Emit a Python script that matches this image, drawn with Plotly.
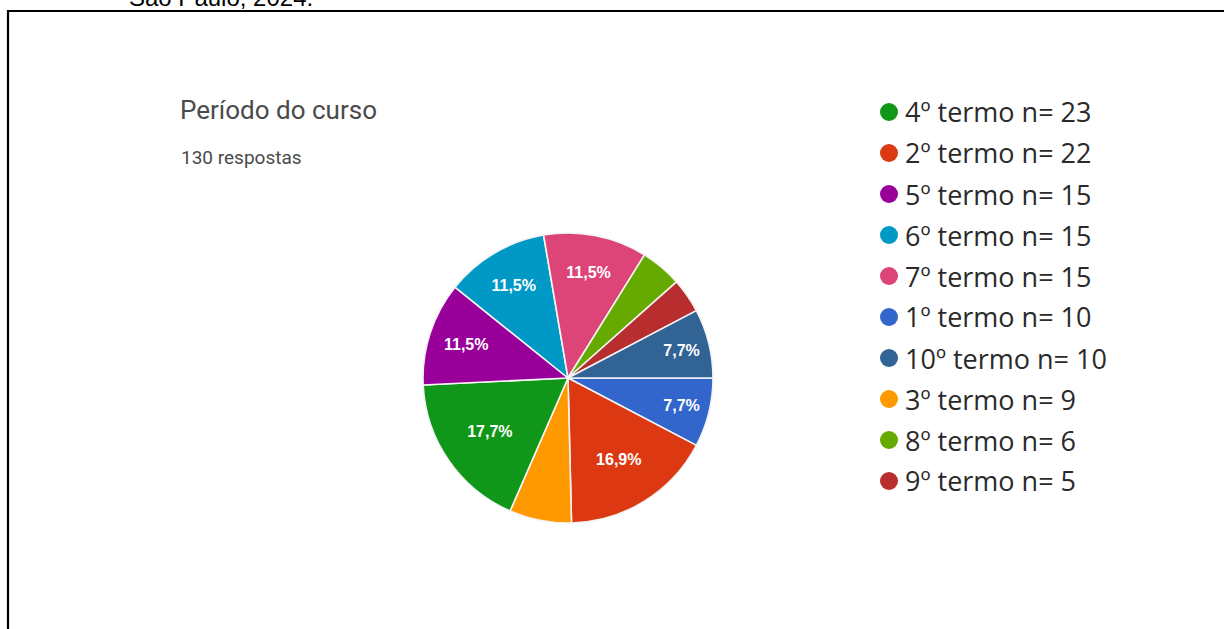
import plotly.graph_objects as go

W, H = 1224, 629

# Period of the course: number of answers per term (130 in total)
terms = ["1º termo", "2º termo", "3º termo", "4º termo", "5º termo",
         "6º termo", "7º termo", "8º termo", "9º termo", "10º termo"]
counts = [10, 22, 9, 23, 15, 15, 15, 6, 5, 10]
colors = ["#3366CC", "#DC3912", "#FF9900", "#109618", "#990099",
          "#0099C6", "#DD4477", "#66AA00", "#B82E2E", "#316395"]
# legend rows, listed from most to fewest answers
legend_order = ["4º termo", "2º termo", "5º termo", "6º termo", "7º termo",
                "1º termo", "10º termo", "3º termo", "8º termo", "9º termo"]

title_text = "Período do curso"
subtitle_text = "130 respostas"
caption_text = "São Paulo, 2024."

total = sum(counts)
pct_text = []
for c in counts:
    p = c / total * 100
    pct_text.append(f"<b>{p:.1f}%</b>".replace(".", ",") if p >= 7 else "")


def px(x):
    return x / W


def py(y):
    return 1 - y / H


# pie geometry in pixels
cx, cy, r = 568, 378, 145

fig = go.Figure(go.Pie(
    labels=terms,
    values=counts,
    sort=False,
    direction="clockwise",
    rotation=90,
    text=pct_text,
    textinfo="text",
    textposition="inside",
    insidetextorientation="horizontal",
    textfont=dict(family="Liberation Sans, Arial", size=16, color="white"),
    marker=dict(colors=colors, line=dict(color="#f4f4f4", width=1.6)),
    domain=dict(x=[px(cx - r), px(cx + r)], y=[py(cy + r), py(cy - r)]),
    showlegend=False,
    hoverinfo="label+value+percent",
))

shapes = []
annotations = []

# frame around the figure
shapes.append(dict(type="path", xref="paper", yref="paper",
                   path=f"M {px(8)} {py(H + 5)} L {px(8)} {py(11)} L {px(W + 5)} {py(11)}",
                   line=dict(color="black", width=2.2)))

# caption running off the top edge
annotations.append(dict(text=caption_text, xref="paper", yref="paper",
                        x=px(127), y=py(13), xanchor="left", yanchor="bottom",
                        showarrow=False,
                        font=dict(family="Liberation Sans, Arial", size=24, color="black")))

annotations.append(dict(text=title_text, xref="paper", yref="paper",
                        x=px(178), y=py(110), xanchor="left", yanchor="middle",
                        showarrow=False,
                        font=dict(family="Roboto", size=26, color="#4a4a4a")))
annotations.append(dict(text=subtitle_text, xref="paper", yref="paper",
                        x=px(179), y=py(158), xanchor="left", yanchor="middle",
                        showarrow=False,
                        font=dict(family="Roboto", size=19, color="#4a4a4a")))

# custom legend
row0, step = 112, 41
mx, mr = 889, 9
for k, name in enumerate(legend_order):
    i = terms.index(name)
    y = row0 + k * step
    shapes.append(dict(type="circle", xref="paper", yref="paper",
                       x0=px(mx - mr), x1=px(mx + mr), y0=py(y + mr), y1=py(y - mr),
                       fillcolor=colors[i], line=dict(width=0)))
    annotations.append(dict(text=f"{name} n= {counts[i]}", xref="paper", yref="paper",
                            x=px(903), y=py(y), xanchor="left", yanchor="middle",
                            showarrow=False,
                            font=dict(family="Open Sans", size=27, color="#2a2a2a")))

fig.update_layout(
    width=W, height=H,
    margin=dict(l=0, r=0, t=0, b=0),
    paper_bgcolor="white",
    plot_bgcolor="white",
    shapes=shapes,
    annotations=annotations,
)

fig.write_html("out.html")
